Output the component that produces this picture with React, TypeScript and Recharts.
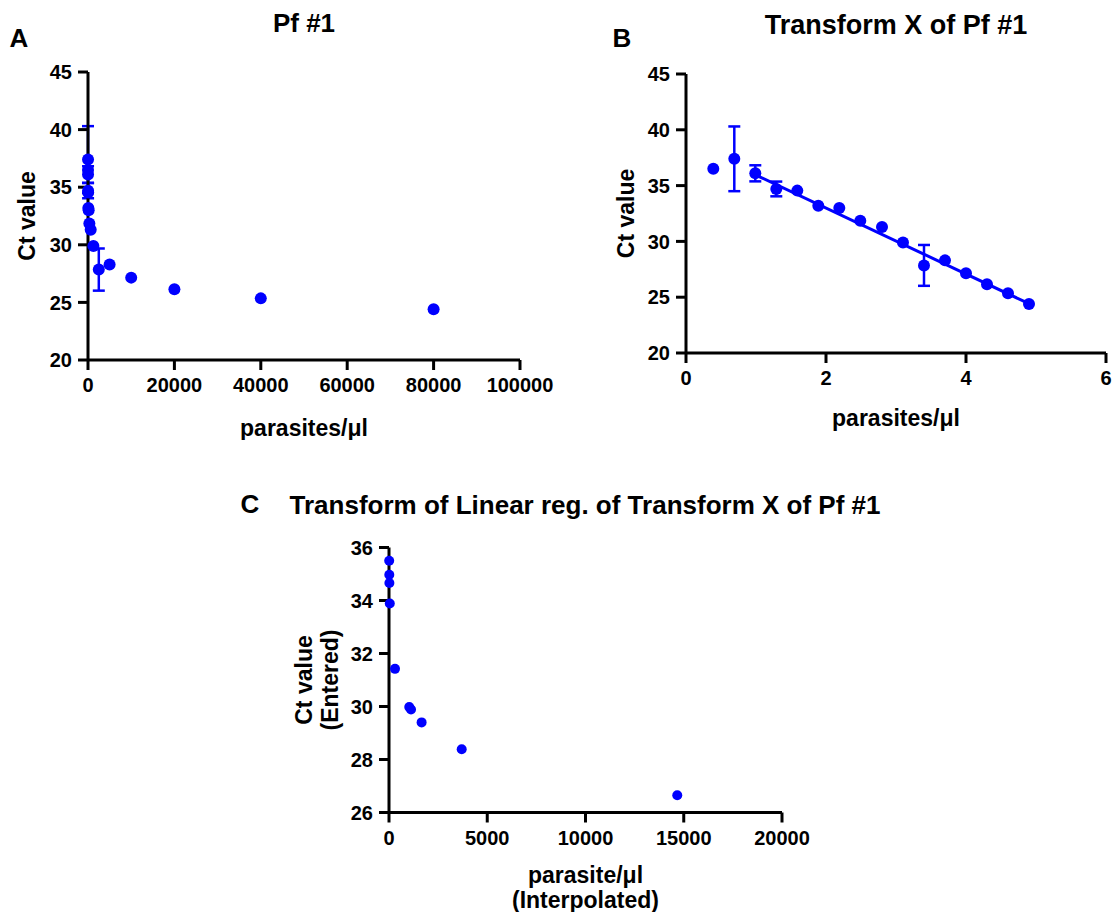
import React from 'react'
import { ScatterChart, Scatter, XAxis, YAxis, ErrorBar, Label } from 'recharts'

const FONT = '"Liberation Sans", Arial, Helvetica, sans-serif'
const BLUE = '#0000ff'

// Pf #1 dilution series: parasites/µl, log10 of it, mean Ct and SD
const parasites = [2.44, 4.88, 9.77, 19.5, 39, 78, 156, 312.5, 625, 1250, 2500, 5000, 10000, 20000, 40000, 80000]
const logParasites = [0.39, 0.69, 0.99, 1.29, 1.59, 1.89, 2.19, 2.49, 2.8, 3.1, 3.4, 3.7, 4.0, 4.3, 4.6, 4.9]
const ctMean = [36.5, 37.4, 36.1, 34.7, 34.55, 33.2, 33.0, 31.85, 31.3, 29.9, 27.85, 28.3, 27.15, 26.15, 25.35, 24.4]
const ctSd = [0, 2.9, 0.72, 0.66, 0, 0, 0, 0, 0, 0, 1.83, 0, 0, 0, 0, 0]

// linear regression over the log-transformed points (end points of the fit)
const fitX = [0.99, 4.9]
const fitCt = [35.97, 24.42]

// entered Ct vs parasites/µl interpolated from the standard curve
const interpParasites = [10, 15, 20, 40, 305, 1030, 1120, 1660, 3700, 14670]
const enteredCt = [35.5, 34.97, 34.66, 33.89, 31.42, 29.98, 29.89, 29.4, 28.39, 26.65]

const ticksAX = [0, 20000, 40000, 60000, 80000, 100000]
const ticksBX = [0, 2, 4, 6]
const ticksCt = [20, 25, 30, 35, 40, 45]
const ticksCX = [0, 5000, 10000, 15000, 20000]
const ticksCY = [26, 28, 30, 32, 34, 36]

const rawPoints = parasites.map((x, i) => ({ x, y: ctMean[i], sd: ctSd[i] }))
const logPoints = logParasites.map((x, i) => ({ x, y: ctMean[i], sd: ctSd[i] }))
const fitPoints = fitX.map((x, i) => ({ x, y: fitCt[i] }))
const interpPoints = interpParasites.map((x, i) => ({ x, y: enteredCt[i] }))

const axisLine = { stroke: '#000', strokeWidth: 3 }
const tickLine = { stroke: '#000', strokeWidth: 3 }
const tickStyle = { fill: '#000', fontSize: 20, fontWeight: 700, fontFamily: FONT }
const titleStyle: React.CSSProperties = { fill: '#000', fontSize: 23, fontWeight: 700, fontFamily: FONT }

function xTitle(lines: string[], firstDy: number, gap = 25) {
  return (props: any) => {
    const vb = props.viewBox
    const cx = vb.x + vb.width / 2
    return (
      <g>
        {lines.map((t, i) => (
          <text key={i} x={cx} y={vb.y + firstDy + i * gap} textAnchor="middle" dominantBaseline="central" style={titleStyle}>
            {t}
          </text>
        ))}
      </g>
    )
  }
}

function yTitle(lines: string[], firstX: number, gap = 26) {
  return (props: any) => {
    const vb = props.viewBox
    const cy = vb.y + vb.height / 2
    return (
      <g>
        {lines.map((t, i) => {
          const cx = vb.x + firstX + i * gap
          return (
            <text key={i} x={cx} y={cy} transform={`rotate(-90 ${cx} ${cy})`} textAnchor="middle" dominantBaseline="central" style={titleStyle}>
              {t}
            </text>
          )
        })}
      </g>
    )
  }
}

const dot = (r: number) => (props: any) => <circle cx={props.cx} cy={props.cy} r={r} fill={BLUE} />

function Heading({ text, x, y, size = 26 }: { text: string; x: number; y: number; size?: number }) {
  return (
    <div
      style={{
        position: 'absolute',
        left: x,
        top: y,
        transform: 'translate(-50%, -50%)',
        fontFamily: FONT,
        fontWeight: 700,
        fontSize: size,
        lineHeight: 1,
        whiteSpace: 'nowrap',
        color: '#000',
      }}
    >
      {text}
    </div>
  )
}

export default function App() {
  return (
    <div style={{ position: 'absolute', left: 0, top: 0, width: 1115, height: 912, background: '#fff', overflow: 'hidden' }}>
      <Heading text="A" x={19} y={38} />
      <Heading text="Pf #1" x={304} y={23} />
      <Heading text="B" x={622} y={38} />
      <Heading text="Transform X of Pf #1" x={896} y={25} size={27} />
      <Heading text="C" x={250} y={504} />
      <Heading text="Transform of Linear reg. of Transform X of Pf #1" x={585} y={505} />

      <div style={{ position: 'absolute', left: 0, top: 0 }}>
        <ScatterChart width={580} height={440} margin={{ top: 72, right: 60, bottom: 0, left: 0 }}>
          <XAxis type="number" dataKey="x" domain={[0, 100000]} ticks={ticksAX} height={80} axisLine={axisLine} tickLine={tickLine} tickSize={10} tickMargin={8} tick={tickStyle} interval={0}>
            <Label content={xTitle(['parasites/μl'], 68)} />
          </XAxis>
          <YAxis type="number" dataKey="y" domain={[20, 45]} ticks={ticksCt} width={88} axisLine={axisLine} tickLine={tickLine} tickSize={10} tickMargin={6} tick={tickStyle} interval={0}>
            <Label content={yTitle(['Ct value'], 27)} />
          </YAxis>
          <Scatter data={rawPoints} shape={dot(6)} isAnimationActive={false}>
            <ErrorBar dataKey="sd" direction="y" width={6} stroke={BLUE} strokeWidth={2.5} isAnimationActive={false} />
          </Scatter>
        </ScatterChart>
      </div>

      <div style={{ position: 'absolute', left: 590, top: 0 }}>
        <ScatterChart width={525} height={440} margin={{ top: 74, right: 9, bottom: 0, left: 0 }}>
          <XAxis type="number" dataKey="x" domain={[0, 6]} ticks={ticksBX} height={87} axisLine={axisLine} tickLine={tickLine} tickSize={10} tickMargin={8} tick={tickStyle} interval={0}>
            <Label content={xTitle(['parasites/μl'], 65)} />
          </XAxis>
          <YAxis type="number" dataKey="y" domain={[20, 45]} ticks={ticksCt} width={96} axisLine={axisLine} tickLine={tickLine} tickSize={10} tickMargin={6} tick={tickStyle} interval={0}>
            <Label content={yTitle(['Ct value'], 36)} />
          </YAxis>
          <Scatter data={fitPoints} line={{ stroke: BLUE, strokeWidth: 3 }} lineType="joint" shape={() => <g />} isAnimationActive={false} />
          <Scatter data={logPoints} shape={dot(6)} isAnimationActive={false}>
            <ErrorBar dataKey="sd" direction="y" width={6} stroke={BLUE} strokeWidth={2.5} isAnimationActive={false} />
          </Scatter>
        </ScatterChart>
      </div>

      <div style={{ position: 'absolute', left: 240, top: 500 }}>
        <ScatterChart width={600} height={412} margin={{ top: 47.5, right: 58, bottom: 0, left: 0 }}>
          <XAxis type="number" dataKey="x" domain={[0, 20000]} ticks={ticksCX} height={99.5} axisLine={axisLine} tickLine={tickLine} tickSize={10} tickMargin={8} tick={tickStyle} interval={0}>
            <Label content={xTitle(['parasite/μl', '(Interpolated)'], 62)} />
          </XAxis>
          <YAxis type="number" dataKey="y" domain={[26, 36]} ticks={ticksCY} width={149} axisLine={axisLine} tickLine={tickLine} tickSize={10} tickMargin={6} tick={tickStyle} interval={0}>
            <Label content={yTitle(['Ct value', '(Entered)'], 64)} />
          </YAxis>
          <Scatter data={interpPoints} shape={dot(5)} isAnimationActive={false} />
        </ScatterChart>
      </div>
    </div>
  )
}
